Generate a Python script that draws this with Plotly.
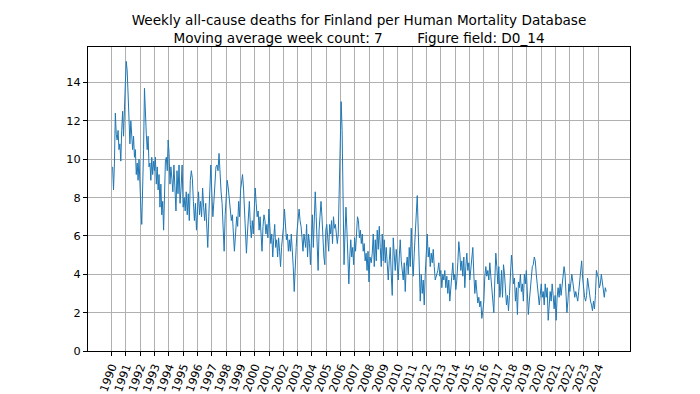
import pandas as pd
import plotly.graph_objects as go

# Weekly deaths (7-week moving average), per time segment
seg1_span = ("1990-01-26", "1994-02-21")
seg1 = [9.6, 8.4, 9.8, 12.4, 11.3, 11.0, 11.5, 10.5, 10.8, 9.9, 11.5, 12.5, 11.2, 13.1, 14.0, 15.1,
        14.6, 13.4, 12.2, 10.8, 12.0, 11.3, 10.5, 11.2, 10.1, 10.5, 9.2, 9.8, 8.9, 10.0, 8.4, 7.5,
        6.6, 8.4, 10.5, 13.7, 12.2, 11.3, 10.5, 11.2, 9.6, 9.8, 8.9, 10.1, 9.2, 9.9, 9.4, 10.1,
        8.7, 9.6, 8.4, 9.2, 7.5, 8.7, 7.1, 7.8, 6.3, 8.0, 9.9, 10.1, 9.4, 11.0, 10.3, 8.7, 9.6]

seg2_span = ("1994-03-18", "1998-07-31")
seg2 = [9.0, 8.3, 9.7, 7.8, 7.3, 9.4, 8.2, 9.7, 7.7, 8.5, 9.7, 7.5, 8.0, 7.3, 8.3, 7.1, 8.2, 6.8,
        8.9, 9.4, 9.0, 7.8, 6.8, 7.7, 6.3, 7.3, 8.3, 7.1, 7.8, 7.0, 8.5, 7.5, 6.8, 7.7, 6.6, 5.4,
        7.0, 8.9, 9.7, 8.2, 7.0, 7.8, 8.9, 9.6, 9.7, 9.4, 10.3, 9.0, 8.3, 7.7, 6.4, 5.2, 7.1, 8.0,
        8.9, 8.5, 7.8, 7.5, 6.8, 7.1, 6.3, 5.2]

seg3_span = ("1998-09-27", "2003-07-05")
seg3 = [7.0, 6.5, 7.8, 7.0, 8.4, 8.9, 9.2, 8.5, 7.0, 5.9, 5.1, 6.1, 7.0, 7.8, 6.6, 5.9, 6.8, 6.1,
        7.3, 8.5, 7.7, 7.0, 7.3, 6.3, 7.0, 5.8, 5.2, 6.5, 7.1, 6.8, 6.1, 6.6, 5.9, 7.4, 6.3, 5.6,
        6.1, 4.9, 5.9, 6.6, 5.4, 5.8, 4.9, 5.9, 5.2, 4.4, 5.4, 5.9, 6.5, 7.4, 6.6, 5.8, 6.1, 5.2,
        5.8, 5.2, 6.1, 5.4, 4.4, 3.1, 4.9, 5.4, 6.3, 7.0, 7.4, 6.8, 6.5, 5.9, 5.2, 6.1, 5.6]

seg4_span = ("2003-07-23", "2008-01-19")
seg4 = [5.4, 6.6, 4.9, 6.1, 5.6, 4.5, 6.1, 7.1, 5.4, 7.3, 8.3, 7.0, 5.9, 4.2, 6.3, 7.3, 7.8, 7.0,
        5.8, 4.9, 4.5, 6.3, 6.6, 5.9, 5.2, 6.6, 6.1, 6.8, 5.6, 7.0, 6.4, 6.6, 5.9, 5.6, 6.1, 8.4,
        11.3, 13.0, 11.5, 7.5, 4.5, 6.1, 7.5, 6.3, 5.2, 3.5, 4.9, 5.8, 4.9, 5.4, 4.5, 5.9, 5.2, 6.3,
        7.0, 6.8, 5.9, 6.3, 5.6, 6.1, 5.2, 5.6, 4.7, 5.1, 4.2, 5.2, 3.6, 4.9]

seg5_span = ("2008-02-21", "2012-08-11")
seg5 = [4.6, 5.1, 6.1, 4.4, 5.8, 4.7, 6.3, 5.3, 6.5, 5.4, 4.4, 6.1, 4.7, 5.8, 4.6, 5.4, 4.4, 3.7,
        4.7, 5.4, 4.0, 2.9, 5.9, 4.9, 4.2, 5.3, 4.6, 3.7, 4.9, 5.8, 4.7, 4.0, 3.7, 4.6, 3.1, 4.4,
        4.9, 4.0, 5.4, 4.4, 6.4, 4.9, 3.9, 5.1, 6.3, 7.2, 8.1, 6.3, 3.7, 2.6, 4.0, 3.0, 3.7, 2.4,
        4.0, 5.4, 6.1, 4.9, 5.4, 4.4, 5.1, 4.6, 5.3, 4.4, 3.7]

seg6_span = ("2012-10-16", "2017-02-14")
seg6 = [4.2, 4.6, 3.9, 4.2, 3.3, 4.0, 3.7, 4.2, 3.3, 3.9, 3.0, 3.7, 2.6, 3.3, 3.9, 4.6, 3.7, 4.0,
        3.2, 3.7, 4.6, 5.7, 5.1, 4.2, 4.7, 3.9, 4.9, 3.3, 4.4, 5.1, 4.2, 4.6, 3.7, 4.4, 5.1, 5.4,
        4.0, 3.0, 3.7, 3.2, 2.5, 2.8, 2.3, 2.6, 1.7, 2.1, 2.6, 3.9, 4.4, 3.9, 4.2, 3.7, 4.6, 3.9,
        3.2, 2.5, 2.0, 3.7, 5.1, 4.4, 3.5, 4.4, 2.8]

seg7_span = ("2017-03-04", "2021-09-06")
seg7 = [3.1, 4.2, 2.8, 4.5, 4.0, 3.1, 2.4, 2.9, 2.1, 2.9, 4.0, 5.0, 4.4, 3.5, 3.8, 2.6, 3.3, 1.9,
        3.6, 3.3, 4.0, 3.1, 3.5, 2.6, 4.0, 3.5, 4.2, 3.1, 1.9, 2.6, 3.5, 3.8, 4.4, 4.5, 4.9, 4.7,
        4.0, 3.5, 3.1, 2.4, 2.9, 3.5, 2.8, 3.1, 2.4, 3.5, 2.8, 3.3, 1.6, 2.8, 3.1, 2.6, 3.5, 2.9,
        2.2, 2.9, 1.6, 2.8, 3.3, 2.8, 3.5, 2.9, 3.5, 4.2, 4.4, 4.0]

seg8_span = ("2021-09-28", "2024-07-23")
seg8 = [2.6, 2.0, 2.6, 3.5, 3.1, 3.8, 4.0, 3.6, 3.3, 2.8, 3.1, 2.8, 2.6, 3.1, 3.6, 4.0, 4.7, 3.8,
        3.1, 2.8, 2.6, 2.9, 3.8, 3.3, 2.8, 2.6, 2.4, 2.1, 2.6, 2.2, 2.9, 4.2, 4.0, 3.8, 3.3, 3.5,
        4.0, 3.6, 2.9, 2.8, 3.3, 3.1]

segments = [(seg1_span, seg1), (seg2_span, seg2), (seg3_span, seg3), (seg4_span, seg4),
            (seg5_span, seg5), (seg6_span, seg6), (seg7_span, seg7), (seg8_span, seg8)]

year_ticks = list(range(1990, 2025))
y_ticks = list(range(0, 15, 2))

xs, ys = [], []
for (start, end), vals in segments:
    xs.extend(pd.date_range(start, end, periods=len(vals)))
    ys.extend(vals)

fig = go.Figure()
fig.add_trace(go.Scatter(x=xs, y=ys, mode="lines",
                         line=dict(color="#1f77b4", width=1.0), showlegend=False))

title_text = ("Weekly all-cause deaths for Finland per Human Mortality Database<br>"
              "Moving average week count: 7" + "\u00a0" * 8 + "Figure field: D0_14")

fig.update_layout(
    width=700, height=394,
    margin=dict(l=88, r=70, t=47, b=43),
    paper_bgcolor="white", plot_bgcolor="white",
    font=dict(family="DejaVu Sans", size=11.3, color="black"),
    title=dict(text=title_text, x=(88 + 630) / 2 / 700, xanchor="center",
               y=1 - 25 / 394, yanchor="top",
               font=dict(family="DejaVu Sans", size=13.6, color="black")),
)
fig.update_xaxes(
    type="date",
    range=["1988-05-08", "2026-03-21"],
    tickmode="array",
    tickvals=[f"{y}-01-01" for y in year_ticks],
    ticktext=[str(y) for y in year_ticks],
    tickangle=-70,
    automargin=False,
    showgrid=True, gridcolor="#b0b0b0", gridwidth=0.8,
    showline=True, linecolor="black", linewidth=1, mirror=True,
    ticks="outside", ticklen=4, tickcolor="black",
    zeroline=False,
    tickfont=dict(family="DejaVu Sans", size=11.3, color="black"),
)
fig.update_yaxes(
    range=[0, 15.85],
    tickmode="array", tickvals=y_ticks, ticktext=[str(v) for v in y_ticks],
    automargin=False,
    showgrid=True, gridcolor="#b0b0b0", gridwidth=0.8,
    showline=True, linecolor="black", linewidth=1, mirror=True,
    ticks="outside", ticklen=4, tickcolor="black",
    zeroline=False,
    tickfont=dict(family="DejaVu Sans", size=11.3, color="black"),
)

fig.write_html("out.html", config={"displayModeBar": False},
               post_script="document.body.style.margin='0';")
